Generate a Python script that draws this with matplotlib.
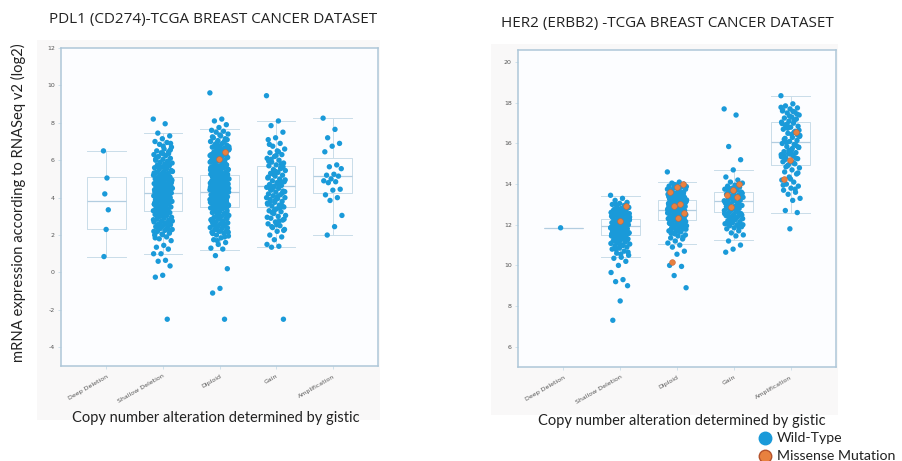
import numpy as np
import matplotlib
matplotlib.use('Agg')
import matplotlib.pyplot as plt
from matplotlib.patches import Rectangle

plt.rcParams['font.family'] = ['Open Sans', 'DejaVu Sans']
plt.rcParams['axes.unicode_minus'] = False

CATS = ['Deep Deletion', 'Shallow Deletion', 'Diploid', 'Gain', 'Amplification']

BLUE = '#1a9ad9'
ORANGE = '#e8813f'
BOX_C = '#c9dde9'
SPINE_C = '#aec7d8'

# ── PDL1 (CD274) values, log2 ─────────────────────────────────────────────────
pdl1_deep = [6.5, 5.05, 4.2, 3.35, 2.3, 0.85]
pdl1_shallow = [
    8.2, 7.95, 7.45, 7.3, 7.15, 7.0, 6.95, 6.85, 6.7, 6.6, 6.5, 6.45, 6.4, 6.3,
    6.25, 6.2, 6.1, 6.05, 6.0, 5.95, 5.9, 5.85, 5.8, 5.75, 5.7, 5.65, 5.6, 5.55,
    5.5, 5.45, 5.4, 5.35, 5.3, 5.25, 5.2, 5.15, 5.1, 5.1, 5.05, 5.0, 5.0, 4.95,
    4.9, 4.9, 4.85, 4.8, 4.8, 4.75, 4.7, 4.7, 4.65, 4.6, 4.6, 4.55, 4.5, 4.5,
    4.45, 4.4, 4.4, 4.35, 4.3, 4.3, 4.25, 4.25, 4.2, 4.2, 4.15, 4.1, 4.1, 4.05,
    4.0, 4.0, 3.95, 3.9, 3.9, 3.85, 3.8, 3.8, 3.75, 3.7, 3.7, 3.65, 3.6, 3.55,
    3.5, 3.5, 3.45, 3.4, 3.35, 3.3, 3.3, 3.25, 3.2, 3.15, 3.1, 3.05, 3.0, 2.95,
    2.9, 2.85, 2.8, 2.75, 2.7, 2.65, 2.6, 2.55, 2.5, 2.45, 2.4, 2.35, 2.3, 2.25,
    2.2, 2.1, 2.05, 2.0, 1.9, 1.8, 1.7, 1.45, 1.35, 1.25, 1.0, 1.0, 0.65, 0.6,
    0.35, -0.15, -0.25, -2.5,
    5.2, 4.95, 4.7, 4.45, 4.15, 3.95, 3.65, 3.4, 3.15, 4.6, 4.05, 3.85, 4.35,
    4.55, 5.4, 5.6, 2.95, 2.7, 3.55, 3.75, 4.25, 4.0, 4.8, 5.05, 6.15, 6.35,
    2.45, 2.2, 2.6, 3.05,
    6.55, 6.35, 6.05, 5.82, 5.62, 5.42, 5.22, 5.02, 4.82, 4.62, 4.42, 4.22,
    4.02, 3.82, 3.62, 3.42, 3.22, 3.02, 2.82, 2.62, 2.42, 2.22, 2.02, 1.85,
    4.12, 4.32, 4.52, 4.72, 3.92, 3.72, 3.52, 5.32, 5.52, 5.72, 6.9, 6.75,
    2.15, 2.35, 2.55, 2.75, 3.1, 4.88, 5.12, 4.48,
]
pdl1_diploid = [
    9.6, 8.2, 8.1, 7.9, 7.75, 7.6, 7.55, 7.5, 7.4, 7.3, 7.2, 7.15, 7.05, 7.0,
    6.9, 6.85, 6.8, 6.75, 6.7, 6.65, 6.6, 6.55, 6.5, 6.45, 6.4, 6.35, 6.3, 6.25,
    6.2, 6.15, 6.1, 6.05, 6.0, 5.95, 5.9, 5.85, 5.8, 5.75, 5.7, 5.65, 5.6, 5.55,
    5.5, 5.45, 5.4, 5.35, 5.3, 5.25, 5.2, 5.2, 5.15, 5.1, 5.1, 5.05, 5.0, 5.0,
    4.95, 4.9, 4.9, 4.85, 4.8, 4.8, 4.75, 4.7, 4.7, 4.65, 4.6, 4.6, 4.55, 4.5,
    4.5, 4.45, 4.4, 4.4, 4.35, 4.3, 4.3, 4.3, 4.25, 4.2, 4.2, 4.15, 4.1, 4.1,
    4.05, 4.0, 4.0, 3.95, 3.9, 3.9, 3.85, 3.8, 3.8, 3.75, 3.7, 3.7, 3.65, 3.6,
    3.6, 3.55, 3.5, 3.5, 3.45, 3.4, 3.35, 3.3, 3.25, 3.2, 3.15, 3.1, 3.05, 3.0,
    2.95, 2.9, 2.85, 2.8, 2.75, 2.7, 2.65, 2.6, 2.55, 2.5, 2.45, 2.4, 2.35, 2.3,
    2.25, 2.2, 2.15, 2.1, 2.0, 1.95, 1.85, 1.75, 1.6, 1.5, 1.3, 1.25, 0.9, 0.2,
    -0.85, -1.1, -2.5,
    6.95, 6.6, 6.3, 6.0, 5.75, 5.5, 5.3, 5.15, 4.95, 4.75, 4.55, 4.35, 4.15,
    3.95, 3.75, 3.55, 3.35, 3.15, 2.9, 2.7, 2.5, 2.3, 4.5, 4.25, 4.05, 3.85,
    3.65, 4.65, 4.85, 5.05, 5.25, 5.45, 5.65, 5.85, 6.05, 6.25, 6.5, 6.75,
    3.45, 3.25, 2.8, 2.6, 2.4, 2.15, 4.4, 4.6, 4.0, 3.9, 5.6, 5.9, 6.4, 7.1,
    7.35, 7.25, 7.0, 6.88, 6.72, 6.58, 6.42, 6.28, 6.12, 5.98, 5.82, 5.68,
    5.52, 5.38, 5.22, 5.08, 4.92, 4.78, 4.62, 4.48, 4.32, 4.18, 4.02, 3.88,
    3.72, 3.58, 3.42, 3.28, 3.12, 2.98, 2.82, 2.68, 2.52, 2.38, 2.22, 2.08,
    1.9, 1.7, 4.42, 4.58, 4.08, 3.92, 4.72, 4.88, 5.02, 5.18, 3.62, 3.78,
    3.32, 3.48, 5.32, 5.48, 5.62, 5.78, 2.88, 3.02, 6.18, 6.32, 6.48, 6.62,
    2.58, 2.72, 4.28, 4.12,
]
pdl1_diploid_mut = [6.45, 6.05]
pdl1_gain = [
    9.45, 8.1, 7.85, 7.5, 7.2, 7.1, 6.9, 6.75, 6.6, 6.5, 6.4, 6.3, 6.2, 6.1,
    6.0, 5.9, 5.85, 5.75, 5.7, 5.6, 5.5, 5.45, 5.35, 5.3, 5.2, 5.15, 5.05, 5.0,
    4.9, 4.85, 4.8, 4.7, 4.65, 4.6, 4.55, 4.5, 4.4, 4.35, 4.3, 4.2, 4.15, 4.1,
    4.0, 3.95, 3.9, 3.8, 3.75, 3.7, 3.6, 3.55, 3.5, 3.4, 3.3, 3.25, 3.15, 3.05,
    3.0, 2.9, 2.8, 2.7, 2.6, 2.5, 2.4, 2.3, 2.2, 2.0, 1.9, 1.75, 1.5, 1.4,
    1.35, -2.5,
    6.25, 5.95, 5.55, 5.25, 4.95, 4.75, 4.45, 4.25, 3.85, 3.65, 3.45, 3.2,
    2.85, 2.55, 6.85, 5.8, 4.6, 4.0,
    6.45, 6.05, 5.65, 5.4, 5.1, 4.88, 4.52, 4.32, 4.05, 3.78, 3.58, 3.35,
    2.95, 2.75, 2.45, 2.25,
]
pdl1_amp = [8.25, 7.65, 7.2, 6.9, 6.75, 6.45, 5.75, 5.65, 5.55, 5.25, 5.2, 5.15,
            5.0, 4.9, 4.85, 4.8, 4.45, 4.4, 4.15, 4.0, 3.85, 3.05, 2.45, 2.0]

# box stats: q1, median, q3, whisker low, whisker high
pdl1_q1 = [2.3, 3.3, 3.5, 3.5, 4.25]
pdl1_med = [3.8, 4.25, 4.3, 4.6, 5.15]
pdl1_q3 = [5.1, 5.1, 5.2, 5.7, 6.1]
pdl1_wlo = [0.85, 1.0, 1.2, 1.35, 2.0]
pdl1_whi = [6.5, 7.45, 7.65, 8.1, 8.25]

# ── HER2 (ERBB2) values, log2 ─────────────────────────────────────────────────
her2_deep = [11.85]
her2_shallow = [
    13.45, 13.3, 13.2, 13.1, 13.05, 13.0, 12.95, 12.9, 12.85, 12.8, 12.75, 12.7,
    12.65, 12.6, 12.55, 12.5, 12.45, 12.4, 12.35, 12.3, 12.3, 12.25, 12.2,
    12.2, 12.15, 12.1, 12.1, 12.05, 12.0, 12.0, 11.95, 11.95, 11.9, 11.9,
    11.85, 11.85, 11.8, 11.8, 11.75, 11.7, 11.7, 11.65, 11.6, 11.6, 11.55,
    11.5, 11.5, 11.45, 11.4, 11.35, 11.3, 11.25, 11.2, 11.15, 11.1, 11.05,
    11.0, 10.95, 10.9, 10.85, 10.8, 10.7, 10.6, 10.5, 10.4, 10.35, 10.2, 10.0,
    9.65, 9.3, 9.2, 9.0, 8.25, 7.3,
    12.95, 12.75, 12.55, 12.35, 12.15, 11.95, 11.75, 11.55, 11.35, 11.15,
    12.85, 12.65, 12.45, 12.25, 12.05, 11.85, 11.65, 11.45, 11.25, 11.05,
    12.4, 12.0, 11.8, 11.6, 11.4, 12.2, 11.9, 12.1, 12.6, 11.7,
    13.0, 12.88, 12.78, 12.68, 12.58, 12.48, 12.38, 12.28, 12.18, 12.08,
    11.98, 11.88, 11.78, 11.68, 11.58, 11.48, 11.38, 11.28, 11.18, 11.08,
    10.98, 10.88, 12.02, 11.92, 11.82, 11.72, 12.12, 12.22, 12.32, 11.62,
    11.52, 11.42, 12.42, 12.52, 10.78, 10.65, 10.55, 12.62, 12.72, 11.32,
]
her2_shallow_mut = [12.9, 12.2]
her2_diploid = [
    14.6, 14.1, 14.05, 14.0, 13.95, 13.9, 13.85, 13.8, 13.75, 13.7, 13.65, 13.6,
    13.55, 13.5, 13.45, 13.4, 13.35, 13.3, 13.25, 13.2, 13.2, 13.15, 13.1,
    13.1, 13.05, 13.0, 13.0, 12.95, 12.9, 12.9, 12.85, 12.8, 12.8, 12.75,
    12.75, 12.7, 12.7, 12.65, 12.6, 12.6, 12.55, 12.5, 12.5, 12.45, 12.4,
    12.4, 12.35, 12.3, 12.3, 12.25, 12.2, 12.15, 12.1, 12.05, 12.0, 11.95,
    11.9, 11.85, 11.8, 11.75, 11.7, 11.65, 11.6, 11.5, 11.45, 11.35, 11.3,
    11.2, 11.1, 11.0, 10.9, 10.7, 10.55, 10.0, 9.95, 9.5, 8.9,
    13.85, 13.65, 13.45, 13.25, 13.05, 12.85, 12.65, 12.45, 12.25, 12.05,
    11.85, 11.55, 13.75, 13.55, 13.35, 13.15, 12.95, 12.75, 12.55, 12.35,
    12.15, 11.95, 11.75, 13.0, 12.8, 12.6, 12.4, 12.2, 12.7, 12.9, 13.3, 12.5,
    13.98, 13.88, 13.78, 13.68, 13.58, 13.48, 13.38, 13.28, 13.18, 13.08,
    12.98, 12.88, 12.78, 12.68, 12.58, 12.48, 12.38, 12.28, 12.18, 12.08,
    11.98, 11.88, 11.78, 11.68, 11.58, 11.4, 12.72, 12.82, 12.62, 12.92,
    12.52, 13.02, 12.42, 13.12, 12.32, 13.22, 12.22, 13.32, 12.12, 13.42,
]
her2_diploid_mut = [14.0, 13.85, 13.6, 13.0, 12.9, 12.6, 12.35, 10.15]
her2_gain = [
    17.7, 17.4, 15.85, 15.2, 14.7, 14.35, 14.2, 14.1, 14.05, 13.95, 13.9,
    13.85, 13.8, 13.75, 13.7, 13.65, 13.6, 13.55, 13.5, 13.45, 13.4, 13.35,
    13.3, 13.25, 13.2, 13.15, 13.1, 13.05, 13.0, 12.95, 12.9, 12.85, 12.8,
    12.75, 12.7, 12.65, 12.6, 12.55, 12.5, 12.45, 12.4, 12.35, 12.3, 12.25,
    12.2, 12.15, 12.1, 12.05, 12.0, 11.95, 11.9, 11.85, 11.8, 11.7, 11.6,
    11.5, 11.45, 11.2, 11.0, 10.8, 10.65,
    13.95, 13.75, 13.55, 13.35, 13.15, 12.95, 12.75, 12.55, 12.35, 12.15,
    13.6, 13.2, 12.9, 12.6, 12.3, 12.0,
    13.88, 13.68, 13.48, 13.28, 13.08, 12.88, 12.68, 12.48, 12.28, 12.08,
    11.88, 13.42, 13.18, 12.82, 12.42, 11.95,
]
her2_gain_mut = [14.0, 13.7, 13.45, 13.35, 12.85]
her2_amp = [
    18.35, 17.95, 17.85, 17.75, 17.7, 17.65, 17.55, 17.5, 17.4, 17.3, 17.25,
    17.2, 17.1, 17.05, 17.0, 16.9, 16.85, 16.8, 16.7, 16.6, 16.5, 16.4, 16.3,
    16.25, 16.15, 16.1, 16.0, 15.95, 15.85, 15.8, 15.7, 15.6, 15.55, 15.5,
    15.45, 15.4, 15.3, 15.25, 15.15, 15.1, 15.0, 14.9, 14.8, 14.7, 14.6, 14.5,
    14.35, 14.2, 14.1, 14.0, 13.9, 13.8, 13.7, 13.6, 13.5, 13.3, 13.2, 12.7,
    12.6, 11.8,
    17.6, 17.15, 16.95, 16.65, 16.45, 16.2, 15.9, 15.65, 15.35, 15.05, 14.85,
    14.55, 14.25, 13.95, 13.75, 16.75, 16.35, 15.75, 15.2,
    17.45, 17.35, 16.98, 16.55, 16.05, 15.82, 15.58, 15.42, 15.28, 14.95,
    17.78, 17.58, 16.88, 16.42, 15.48,
]
her2_amp_mut = [16.55, 15.2, 14.25]

her2_q1 = [11.85, 11.5, 12.25, 12.65, 14.95]
her2_med = [11.85, 11.95, 12.75, 13.15, 16.05]
her2_q3 = [11.85, 12.3, 13.2, 13.6, 17.05]
her2_wlo = [11.85, 10.4, 11.05, 11.25, 12.6]
her2_whi = [11.85, 13.4, 14.1, 14.7, 18.35]


def jitter(n, width):
    # deterministic spread (golden-ratio sequence) in place of random strip jitter
    return ((np.arange(n) * 0.618034) % 1.0 - 0.5) * width


def draw_panel(ax, groups, muts, q1, med, q3, wlo, whi, ylim, yticks):
    stats = [dict(q1=a, med=m, q3=b, whislo=lo, whishi=hi, fliers=[])
             for a, m, b, lo, hi in zip(q1, med, q3, wlo, whi)]
    line = dict(color=BOX_C, lw=0.7)
    ax.bxp(stats, positions=range(5), widths=0.68, capwidths=0.68,
           showfliers=False, boxprops=line, whiskerprops=line, capprops=line,
           medianprops=dict(color='#b2cde0', lw=0.9), zorder=1)
    for i, vals in enumerate(groups):
        w = 0.1 if len(vals) < 10 else 0.34
        ax.scatter(i + jitter(len(vals), w), vals, s=15, color=BLUE,
                   edgecolors='none', zorder=3)
    for i, vals in muts.items():
        ax.scatter(i + jitter(len(vals) + 3, 0.28)[3:], vals, s=17, color=ORANGE,
                   edgecolors='#c9653a', linewidths=0.4, zorder=4)
    ax.set_xlim(-0.8, 4.8)
    ax.set_ylim(*ylim)
    ax.set_yticks(yticks)
    ax.set_xticks(range(5))
    ax.set_xticklabels(CATS, rotation=30, ha='right', rotation_mode='anchor',
                       fontsize=4.5, color='#555555', family='DejaVu Sans')
    ax.tick_params(axis='y', labelsize=4.5, labelcolor='#555555', length=2.5,
                   width=0.6, color=BOX_C, pad=2)
    ax.tick_params(axis='x', length=2.5, width=0.6, color=BOX_C, pad=3)
    for lab in ax.get_yticklabels():
        lab.set_family('DejaVu Sans')
    ax.set_facecolor('#fcfdff')
    for sp in ax.spines.values():
        sp.set_color(SPINE_C)
        sp.set_linewidth(1.1)


W, H = 903, 461
fig = plt.figure(figsize=(W / 100, H / 100), dpi=100)

# faint backdrop behind each panel
for x0, x1, y0, y1 in [(37, 380, 40, 420), (491, 838, 44, 415)]:
    fig.patches.append(Rectangle((x0 / W, 1 - y1 / H), (x1 - x0) / W, (y1 - y0) / H,
                                 transform=fig.transFigure, color='#f9f8f8',
                                 zorder=-10, lw=0))

ax1 = fig.add_axes([61 / W, 1 - 366 / H, 317 / W, 318 / H])
draw_panel(ax1, [pdl1_deep, pdl1_shallow, pdl1_diploid, pdl1_gain, pdl1_amp],
           {2: pdl1_diploid_mut}, pdl1_q1, pdl1_med, pdl1_q3, pdl1_wlo, pdl1_whi,
           (-5, 12), range(-4, 13, 2))

ax2 = fig.add_axes([518 / W, 1 - 367 / H, 318 / W, 317 / H])
draw_panel(ax2, [her2_deep, her2_shallow, her2_diploid, her2_gain, her2_amp],
           {1: her2_shallow_mut, 2: her2_diploid_mut, 3: her2_gain_mut,
            4: her2_amp_mut},
           her2_q1, her2_med, her2_q3, her2_wlo, her2_whi,
           (5, 20.6), range(6, 21, 2))

fig.text(213 / W, 1 - 20 / H, 'PDL1 (CD274)-TCGA BREAST CANCER DATASET',
         ha='center', va='center', fontsize=11, color='#222222')
fig.text(667 / W, 1 - 23 / H, 'HER2 (ERBB2) -TCGA BREAST CANCER DATASET',
         ha='center', va='center', fontsize=11, color='#222222')
fig.text(18 / W, 1 - 203 / H, 'mRNA expression according to RNASeq v2 (log2)',
         rotation=90, ha='center', va='center', fontsize=10.6, color='#222222',
         family=['Lato', 'DejaVu Sans'])
fig.text(216 / W, 1 - 418 / H, 'Copy number alteration determined by gistic',
         ha='center', va='center', fontsize=10.5, color='#222222',
         family=['Lato', 'DejaVu Sans'])
fig.text(682 / W, 1 - 421 / H, 'Copy number alteration determined by gistic',
         ha='center', va='center', fontsize=10.5, color='#222222',
         family=['Lato', 'DejaVu Sans'])

# legend
leg_labels = ['Wild-Type', 'Missense Mutation']
leg_colors = [BLUE, ORANGE]
leg_edges = [BLUE, '#b5532c']
for k, (lab, c, e) in enumerate(zip(leg_labels, leg_colors, leg_edges)):
    y = 1 - (438 + 18 * k) / H
    fig.add_artist(plt.Line2D([765 / W], [y], marker='o', markersize=9,
                              color=c, markeredgecolor=e, markeredgewidth=1,
                              transform=fig.transFigure))
    fig.text(777 / W, y, lab, ha='left', va='center', fontsize=10.2,
             color='#222222', family=['Lato', 'DejaVu Sans'])

fig.savefig('out.png', dpi=100, facecolor='white')
